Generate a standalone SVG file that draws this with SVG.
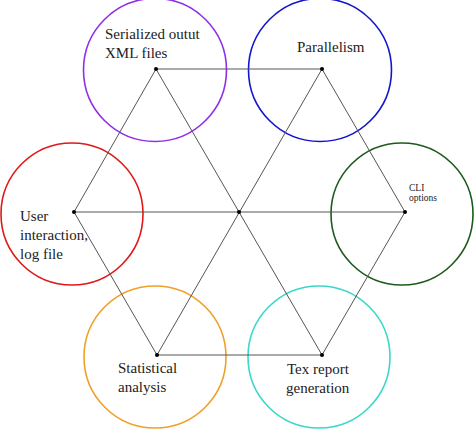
<svg xmlns="http://www.w3.org/2000/svg" width="474" height="430" viewBox="0 0 474 430">
<style>
.ring{fill:none;stroke-width:1.6}
.lbl{font-family:"Liberation Serif","Times New Roman",serif;font-size:15px;fill:#222}
.sm{font-size:9.5px}
.edge{stroke:#555;stroke-width:1;fill:none}
.dot{fill:#000}
</style>
<rect width="474" height="430" fill="#fff"/>
<g id="node-serialized">
<circle class="ring" cx="155" cy="70" r="71.5" stroke="#8f2ee6"/>
</g>
<g id="node-parallelism">
<circle class="ring" cx="320" cy="70" r="71.5" stroke="#1414cc"/>
</g>
<g id="node-user">
<circle class="ring" cx="72" cy="214" r="71" stroke="#e01818"/>
</g>
<g id="node-cli">
<circle class="ring" cx="402" cy="214" r="71" stroke="#1e5a1e"/>
</g>
<g id="node-statistical">
<circle class="ring" cx="155" cy="357" r="71" stroke="#f0a028"/>
</g>
<g id="node-tex">
<circle class="ring" cx="319" cy="357" r="71" stroke="#3ad8c8"/>
</g>
<g id="connectors">
<polygon class="edge" points="156,69 322,69 405,212 322,355 157,355 74,212"/>
<line class="edge" x1="156" y1="69" x2="322" y2="355"/>
<line class="edge" x1="322" y1="69" x2="157" y2="355"/>
<line class="edge" x1="74" y1="212" x2="405" y2="212"/>
<circle class="dot" cx="156" cy="69" r="2"/>
<circle class="dot" cx="322" cy="69" r="2"/>
<circle class="dot" cx="74" cy="212" r="2"/>
<circle class="dot" cx="405" cy="212" r="2"/>
<circle class="dot" cx="157" cy="355" r="2"/>
<circle class="dot" cx="322" cy="355" r="2"/>
<circle class="dot" cx="239" cy="212" r="2"/>
</g>
<g id="labels">
<text class="lbl" x="105" y="39">Serialized outut</text>
<text class="lbl" x="105" y="58">XML files</text>
<text class="lbl" x="297" y="52">Parallelism</text>
<text class="lbl" x="20" y="221">User</text>
<text class="lbl" x="20" y="240">interaction,</text>
<text class="lbl" x="20" y="259">log file</text>
<text class="lbl sm" x="409" y="191">CLI</text>
<text class="lbl sm" x="409" y="201">options</text>
<text class="lbl" x="118" y="373">Statistical</text>
<text class="lbl" x="118" y="392">analysis</text>
<text class="lbl" x="287" y="374">Tex report</text>
<text class="lbl" x="286" y="393">generation</text>
</g>
</svg>
